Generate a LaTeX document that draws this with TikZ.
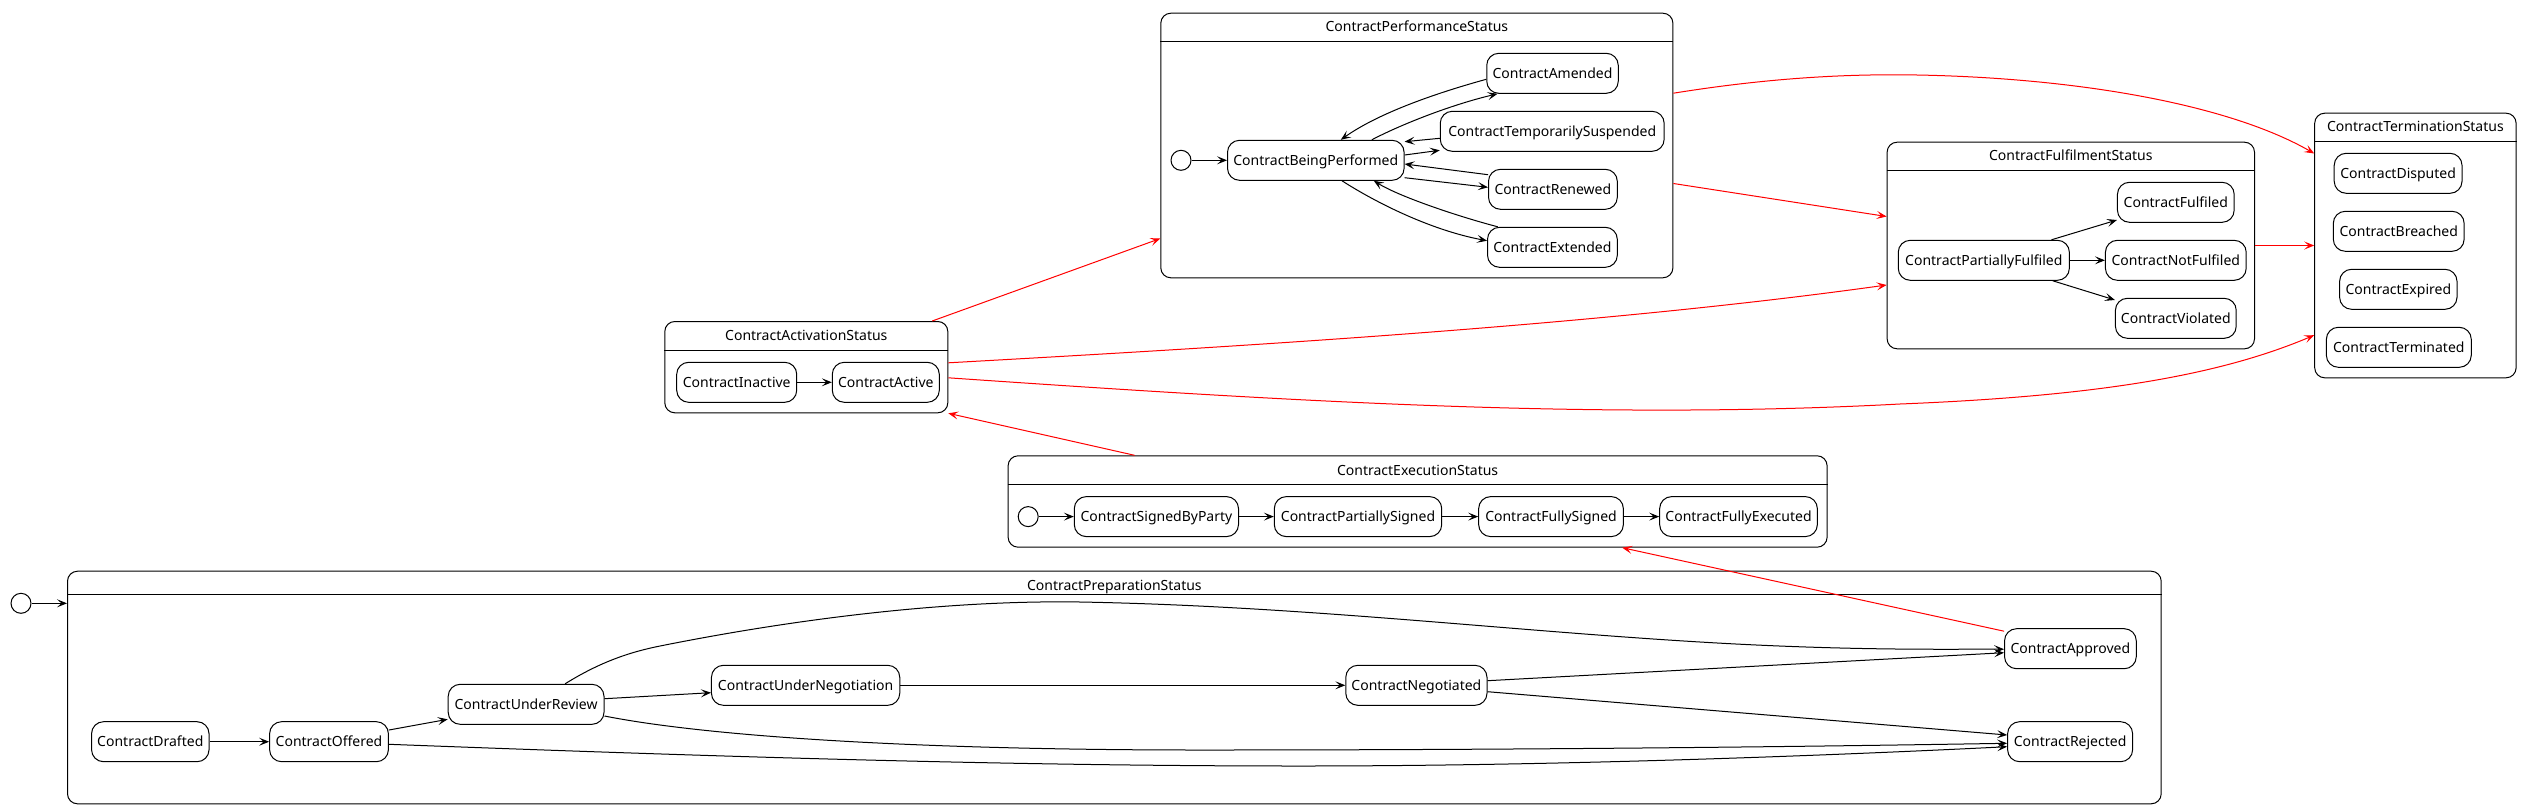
\documentclass[tikz,border=0pt]{standalone}
\usepackage{fontspec}
\setmainfont{Noto Sans}
\usetikzlibrary{arrows.meta}
\newcommand\diagfont{\fontsize{14pt}{16pt}\selectfont}
\tikzset{
  stnode/.style={draw, rounded corners=12pt, minimum height=40pt, inner xsep=3pt, inner ysep=0pt,
    line width=1pt, font=\diagfont, text height=10pt, text depth=0pt},
  contbox/.style={draw, rounded corners=10pt, line width=1pt, anchor=north west, inner sep=0pt},
  hdr/.style={line width=1pt},
  titlenode/.style={font=\diagfont, inner sep=0pt, text height=10pt, text depth=0pt},
  initnode/.style={draw, circle, minimum size=20pt, inner sep=0pt, line width=1pt},
  trans/.style={-{Stealth[length=10pt,width=8pt,inset=4.5pt]}, line width=1pt},
  rtrans/.style={trans, red}
}
\begin{document}
\begin{tikzpicture}[x=1pt,y=-1pt]
\useasboundingbox (0,0) rectangle (2521,809);

% ---------- ContractPerformanceStatus ----------
\node[contbox, minimum width=512.1pt, minimum height=264.6pt] (perf) at (1160.3,12.7) {};
\draw[hdr] ([yshift=-29pt]perf.north west) -- ([yshift=-29pt]perf.north east);
\node[titlenode] (perfT) at ([yshift=-14pt]perf.north) {ContractPerformanceStatus};
\node[initnode] (pinit) at (1181,160.3) {};
\node[stnode, minimum width=176.6pt] (bp) at (1315.8,160.3) {ContractBeingPerformed};
\node[stnode, minimum width=131.5pt] (am) at (1552.5,73.3) {ContractAmended};
\node[stnode, minimum width=223.9pt] (ts) at (1552.2,131.3) {ContractTemporarilySuspended};
\node[stnode, minimum width=128.8pt] (rn) at (1552.9,189.3) {ContractRenewed};
\node[stnode, minimum width=129.8pt] (ex) at (1552.4,247.3) {ContractExtended};

\draw[trans] (pinit) -- (bp);
\draw[trans] ([xshift=56pt]bp.north) .. controls (1400,125) and (1450,105) .. ([xshift=-55pt]am.south);
\draw[trans] ([yshift=-6pt]am.west) .. controls (1440,92) and (1380,112) .. ([xshift=25pt]bp.north);
\draw[trans] ([yshift=-7pt]ts.west) -- ([yshift=18.6pt]bp.east);
\draw[trans] ([yshift=5.3pt]bp.east) -- ([yshift=-19pt]ts.west);
\draw[trans] ([yshift=14.6pt]rn.west) -- ([yshift=-3.7pt]bp.east);
\draw[trans] ([yshift=-17.4pt]bp.east) -- ([yshift=2pt]rn.west);
\draw[trans] ([xshift=-54.6pt]ex.north) .. controls (1460,217) and (1400,197) .. ([xshift=58pt]bp.south);
\draw[trans] ([xshift=26.2pt]bp.south) .. controls (1375,202) and (1430,230) .. ([yshift=6.6pt]ex.west);

% ---------- ContractFulfilmentStatus ----------
\node[contbox, minimum width=367.4pt, minimum height=206.6pt] (ful) at (1886.6,141.7) {};
\draw[hdr] ([yshift=-28.6pt]ful.north west) -- ([yshift=-28.6pt]ful.north east);
\node[titlenode] (fulT) at ([yshift=-14pt]ful.north) {ContractFulfilmentStatus};
\node[stnode, minimum width=171.1pt] (pf) at (1983.8,260.3) {ContractPartiallyFulfiled};
\node[stnode, minimum width=116.7pt] (fu) at (2175.8,202.3) {ContractFulfiled};
\node[stnode, minimum width=140.8pt] (nf) at (2175.8,260.3) {ContractNotFulfiled};
\node[stnode, minimum width=120.8pt] (vi) at (2175.8,318.3) {ContractViolated};

\draw[trans] ([xshift=67.6pt]pf.north) -- ([yshift=-17.7pt]fu.west);
\draw[trans] (pf) -- (nf);
\draw[trans] ([xshift=69pt]pf.south) -- ([yshift=18.3pt]vi.west);

% ---------- ContractTerminationStatus ----------
\node[contbox, minimum width=201.4pt, minimum height=264.6pt] (term) at (2314.2,112.7) {};
\draw[hdr] ([yshift=-29pt]term.north west) -- ([yshift=-29pt]term.north east);
\node[titlenode] (termT) at ([yshift=-14pt]term.north) {ContractTerminationStatus};
\node[stnode, minimum width=127.8pt] (di) at (2398.1,173.3) {ContractDisputed};
\node[stnode, minimum width=130.8pt] (br) at (2398.7,231.3) {ContractBreached};
\node[stnode, minimum width=117.4pt] (exq) at (2398.3,289.3) {ContractExpired};
\node[stnode, minimum width=144.9pt] (te) at (2398.8,347.3) {ContractTerminated};

% ---------- ContractActivationStatus ----------
\node[contbox, minimum width=283pt, minimum height=91.3pt] (actC) at (664.3,321) {};
\draw[hdr] ([yshift=-29.7pt]actC.north west) -- ([yshift=-29.7pt]actC.north east);
\node[titlenode] (actT) at ([yshift=-14.5pt]actC.north) {ContractActivationStatus};
\node[stnode, minimum width=120pt] (ina) at (736.7,382.3) {ContractInactive};
\node[stnode, minimum width=107pt] (cact) at (885.8,382.3) {ContractActive};
\draw[trans] (ina) -- (cact);

% ---------- ContractExecutionStatus ----------
\node[contbox, minimum width=819pt, minimum height=91.4pt] (exec) at (1007.6,455.3) {};
\draw[hdr] ([yshift=-28.7pt]exec.north west) -- ([yshift=-28.7pt]exec.north east);
\node[titlenode] (execT) at ([yshift=-15pt]exec.north) {ContractExecutionStatus};
\node[initnode] (einit) at (1028.2,516.6) {};
\node[stnode, minimum width=164.2pt] (sbp) at (1156.4,516.6) {ContractSignedByParty};
\node[stnode, minimum width=167.4pt] (ps) at (1358,516.6) {ContractPartiallySigned};
\node[stnode, minimum width=144.7pt] (fs) at (1551,516.6) {ContractFullySigned};
\node[stnode, minimum width=157.7pt] (fe) at (1738.5,516.6) {ContractFullyExecuted};
\draw[trans] (einit) -- (sbp);
\draw[trans] (sbp) -- (ps);
\draw[trans] (ps) -- (fs);
\draw[trans] (fs) -- (fe);

% ---------- ContractPreparationStatus ----------
\node[initnode] (prinit) at (21,603.3) {};
\node[contbox, minimum width=2093.7pt, minimum height=232.6pt] (prep) at (67,570.7) {};
\draw[hdr] ([yshift=-23.6pt]prep.north west) -- ([yshift=-23.6pt]prep.north east);
\node[titlenode] (prepT) at ([yshift=-14.3pt]prep.north) {ContractPreparationStatus};
\node[stnode, minimum width=117.5pt] (dr) at (150.3,741.7) {ContractDrafted};
\node[stnode, minimum width=118.8pt] (of) at (329,741.7) {ContractOffered};
\node[stnode, minimum width=155.8pt] (ur) at (526.1,704.3) {ContractUnderReview};
\node[stnode, minimum width=188.3pt] (un) at (805.6,685.3) {ContractUnderNegotiation};
\node[stnode, minimum width=141.2pt] (ng) at (1416.4,685.3) {ContractNegotiated};
\node[stnode, minimum width=131.7pt] (ap) at (2070.4,648.7) {ContractApproved};
\node[stnode, minimum width=125pt] (rj) at (2070.1,741.7) {ContractRejected};

\draw[trans] (prinit) -- (prinit -| prep.west);
\draw[trans] (dr) -- (of);
\draw[trans] ([yshift=11.7pt]of.east) -- ([yshift=-15pt]ur.west);
\draw[trans] ([yshift=5.6pt]ur.east) -- ([yshift=-7.4pt]un.west);
\draw[trans] (un) -- (ng);
\draw[trans] ([xshift=39pt]ur.north) .. controls (600,662) and (630,652) .. (660,646)
  .. controls (800,618) and (950,600) .. (1080,602)
  .. controls (1300,606) and (1500,630) .. (1700,642)
  .. controls (1850,651) and (1950,649) .. ([yshift=-0.5pt]ap.west);
\draw[trans] ([yshift=4.6pt]ng.east) -- ([yshift=-4pt]ap.west);
\draw[trans] ([yshift=-6.4pt]ng.east) -- ([yshift=6.7pt]rj.west);
\draw[trans] ([yshift=-11.7pt]ur.east) .. controls (700,735) and (900,750) .. (1200,750)
  .. controls (1600,750) and (1900,745) .. ([yshift=-1.6pt]rj.west);
\draw[trans] ([yshift=-2.6pt]of.east) .. controls (700,756) and (1000,766) .. (1300,766)
  .. controls (1600,766) and (1900,752) .. ([yshift=-5pt]rj.west);

% ---------- red transitions between composites ----------
\draw[rtrans] ([xshift=125.9pt]actC.north) -- ([yshift=-93pt]perf.west);
\draw[rtrans] ([yshift=-38pt]perf.east) -- ([yshift=29pt]ful.west);
\draw[rtrans] ([yshift=52.3pt]perf.east) .. controls (1780,76) and (1860,74) .. (1917,75)
  .. controls (2080,78) and (2230,105) .. ([yshift=92pt]term.west);
\draw[rtrans] (ful.east) -- (term.west);
\draw[rtrans] ([yshift=4.35pt]actC.east) .. controls (1250,346) and (1600,325) .. ([yshift=-39.5pt]ful.west);
\draw[rtrans] ([yshift=-10.65pt]actC.east) .. controls (1300,402) and (1600,420) .. (1900,404)
  .. controls (2100,396) and (2220,375) .. ([yshift=-89.7pt]term.west);
\draw[rtrans] ([xshift=-283pt]exec.north) -- (actC.south east);
\draw[rtrans] ([yshift=-3pt]ap.north west) -- ([xshift=204.6pt]exec.south);
\end{tikzpicture}
\end{document}
